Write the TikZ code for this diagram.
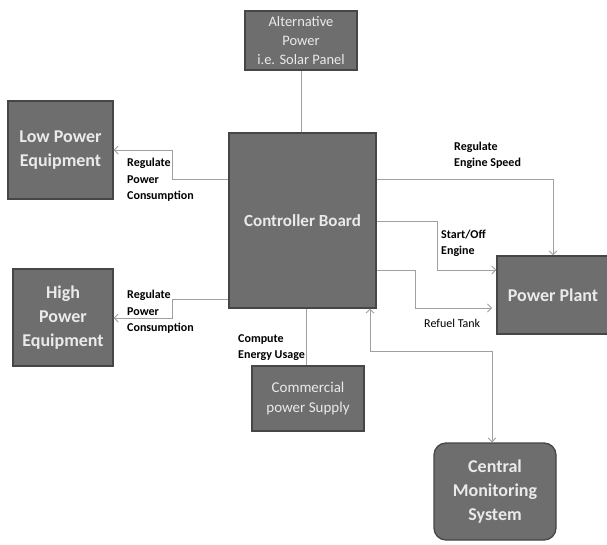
\documentclass[tikz,border=0pt]{standalone}
\usepackage{fontspec}
\setmainfont{Carlito}
\usetikzlibrary{arrows.meta}
\definecolor{boxfill}{HTML}{6E6E6E}
\definecolor{boxline}{HTML}{464646}
\definecolor{boxtext}{HTML}{EAEAEA}
\definecolor{conncol}{HTML}{A0A0A0}
\tikzset{
  blk/.style={draw=boxline, line width=1.3pt, fill=boxfill, text=boxtext, align=center, inner sep=0pt,
    font=\bfseries\fontsize{18}{24}\selectfont},
  blklight/.style={blk, font=\fontsize{14.5}{19}\selectfont},
  conn/.style={draw=conncol, line width=0.9pt},
  arr/.style={conn, -{Straight Barb[length=4pt,width=8pt,line width=0.8pt]}},
  darr/.style={conn, {Straight Barb[length=4pt,width=8pt,line width=0.8pt]}-{Straight Barb[length=4pt,width=8pt,line width=0.8pt]}},
  lbl/.style={anchor=north west, inner sep=0pt, align=left, text=black, font=\bfseries\fontsize{12}{16.5}\selectfont},
  lblreg/.style={lbl, font=\fontsize{12}{16.5}\selectfont}
}
\begin{document}
\begin{tikzpicture}[x=1pt,y=-1pt]
\useasboundingbox (0,0) rectangle (607,545);
\fill[white] (0,0) rectangle (607,545);
% blocks
\node[blklight, minimum width=112pt, minimum height=59pt] (alt) at (301,40.5) {Alternative\\Power\\i.e. Solar Panel};
\node[blk, minimum width=105pt, minimum height=98pt] (low) at (60.5,150) {Low Power\\Equipment};
\node[blk, minimum width=147pt, minimum height=175pt, font=\bfseries\fontsize{17}{24}\selectfont] (ctrl) at (302.5,220.5) {Controller Board};
\node[blk, minimum width=100pt, minimum height=97pt] (high) at (63,317.5) {High\\Power\\Equipment};
\node[blk, minimum width=112pt, minimum height=78pt] (pp) at (553,295) {Power Plant};
\node[blklight, minimum width=112pt, minimum height=65pt, font=\fontsize{15}{20}\selectfont] (comm) at (308,398.5) {Commercial\\power Supply};
\node[blk, minimum width=122pt, minimum height=97pt, rounded corners=12pt] (cms) at (495,491.5) {Central\\Monitoring\\System};
% connectors
\draw[conn] (ctrl.north -| alt.south) -- (alt.south);
\draw[arr] (ctrl.west |- 0,179) -| (172,150) -- (low.east |- 0,150);
\draw[arr] (ctrl.west |- 0,299) -| (172,318) -- (high.east |- 0,318);
\draw[arr] (ctrl.east |- 0,179) -| (pp.north);
\draw[arr] (ctrl.east |- 0,221) -| (437,270) -- (pp.west |- 0,270);
\coordinate (refuelend) at (492,308);
\draw[arr] (ctrl.east |- 0,270) -| (415,308) -- (refuelend);
\draw[conn] (ctrl.south -| 306,0) -- (comm.north -| 306,0);
\draw[darr] (ctrl.south -| 370,0) |- (492,351) -- (cms.north -| 492,0);
% labels
\node[lbl] (l1) at (127,158) {Regulate\\Power\\Consumption};
\node[lbl] (l2) at (127,290) {Regulate\\Power\\Consumption};
\node[lbl] (l3) at (454,141.5) {Regulate\\Engine Speed};
\node[lbl] (l4) at (441,229.5) {Start/Off\\Engine};
\node[lblreg] (l5) at (424,319) {Refuel Tank};
\node[lbl] (l6) at (238,334) {Compute\\Energy Usage};
\end{tikzpicture}
\end{document}
